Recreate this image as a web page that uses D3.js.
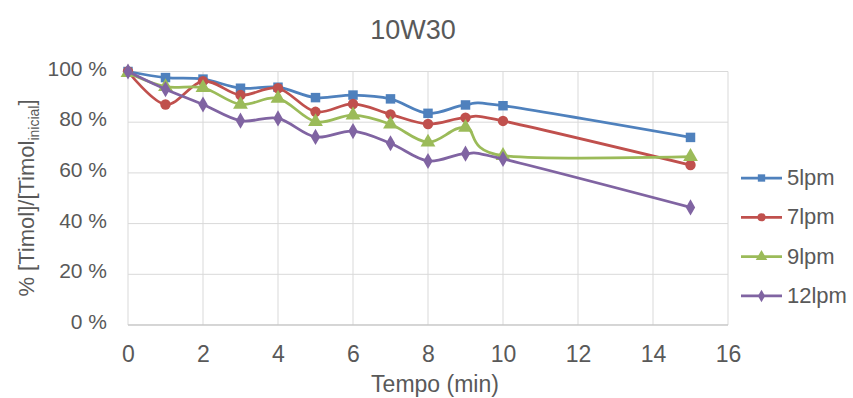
<!DOCTYPE html>
<html><head><meta charset="utf-8">
<script src="https://cdn.jsdelivr.net/npm/d3@7"></script>
<style>body{margin:0;background:#fff}text{font-family:"Liberation Sans",Arial,sans-serif}</style>
</head><body><svg id="c" width="853" height="398"></svg>
<script>
const times = [0,1,2,3,4,5,6,7,8,9,10,15];
const s5  = [100,97.6,97.0,93.4,93.8,89.7,90.7,89.2,83.5,86.8,86.5,74.0];
const s7  = [100,87.0,96.2,90.7,93.4,84.1,87.2,83.1,79.3,81.8,80.5,63.1];
const s9  = [99.5,94.0,93.6,87.0,89.4,80.2,82.8,79.2,72.1,77.9,66.8,66.4];
const s12 = [100,93.0,87.0,80.6,81.5,74.2,76.5,71.7,64.7,67.6,65.5,46.4];
const seriesNames = ["5lpm","7lpm","9lpm","12lpm"];
const colors = ["#4F81BD","#C0504D","#9BBB59","#8064A2"];
const markers = [d3.symbolSquare,d3.symbolCircle,d3.symbolTriangle,d3.symbolDiamond];
const xTicks = [0,2,4,6,8,10,12,14,16];
const yTicks = [0,20,40,60,80,100];
const title = "10W30";
const xTitle = "Tempo (min)";

const svg = d3.select("#c");
const x = d3.scaleLinear().domain([0,16]).range([128,728]);
const y = d3.scaleLinear().domain([0,100]).range([325,71.5]);
const grey = "#595959";

// gridlines
svg.append("g").selectAll("line").data(yTicks).join("line")
  .attr("x1",x(0)).attr("x2",x(16)).attr("y1",d=>y(d)).attr("y2",d=>y(d))
  .attr("stroke","#d9d9d9").attr("stroke-width",1);
svg.append("g").selectAll("line").data(xTicks).join("line")
  .attr("x1",d=>x(d)).attr("x2",d=>x(d)).attr("y1",y(100)).attr("y2",y(0))
  .attr("stroke","#d9d9d9").attr("stroke-width",1);
svg.append("line").attr("x1",x(0)).attr("x2",x(16)).attr("y1",y(0)).attr("y2",y(0)).attr("stroke","#bfbfbf");

// axes labels
const yAxis = d3.axisLeft(y).tickValues(yTicks).tickFormat(d=>d+" %").tickSize(0).tickPadding(21);
const gy = svg.append("g").attr("transform",`translate(${x(0)},0)`).call(yAxis);
gy.select(".domain").remove();
gy.selectAll("text").attr("fill",grey).attr("font-size",21).attr("dy",null).attr("y",3.5);

const xAxis = d3.axisBottom(x).tickValues(xTicks).tickSize(0).tickPadding(0);
const gx = svg.append("g").attr("transform",`translate(0,${y(0)})`).call(xAxis);
gx.select(".domain").remove();
gx.selectAll("text").attr("fill",grey).attr("font-size",23).attr("dy",null).attr("y",37);

svg.append("text").attr("x",413).attr("y",39).attr("text-anchor","middle")
  .attr("fill",grey).attr("font-size",27).text(title);
svg.append("text").attr("x",435).attr("y",392).attr("text-anchor","middle")
  .attr("fill",grey).attr("font-size",23).text(xTitle);

const yt = svg.append("text").attr("transform","translate(34,198) rotate(-90)")
  .attr("text-anchor","middle").attr("fill",grey).attr("font-size",22);
yt.append("tspan").text("% [Timol]/[Timol");
yt.append("tspan").attr("font-size",14).attr("dy",5).text("inicial");
yt.append("tspan").attr("dy",-5).text("]");

// series
const all = [s5,s7,s9,s12];
const line = d3.line().x(d=>x(d[0])).y(d=>y(d[1])).curve(d3.curveCardinal.tension(0));
const sizes = [90,85,95,75];
all.forEach((vals,i)=>{
  const pts = times.map((t,j)=>[t,vals[j]]);
  svg.append("path").attr("d",line(pts)).attr("fill","none")
    .attr("stroke",colors[i]).attr("stroke-width",2.75);
  svg.append("g").selectAll("path").data(pts).join("path")
    .attr("transform",d=>`translate(${x(d[0])},${y(d[1])})`)
    .attr("d",d3.symbol().type(markers[i]).size(sizes[i]))
    .attr("fill",colors[i]);
});

// legend
const lg = svg.append("g");
seriesNames.forEach((n,i)=>{
  const yy = 178 + i*39.3;
  lg.append("line").attr("x1",741).attr("x2",782).attr("y1",yy).attr("y2",yy)
    .attr("stroke",colors[i]).attr("stroke-width",2.75);
  lg.append("path").attr("transform",`translate(761.5,${yy})`)
    .attr("d",d3.symbol().type(markers[i]).size(sizes[i]*0.6)).attr("fill",colors[i]);
  lg.append("text").attr("x",787).attr("y",yy+7).attr("fill",grey).attr("font-size",22).text(n);
});
</script></body></html>
